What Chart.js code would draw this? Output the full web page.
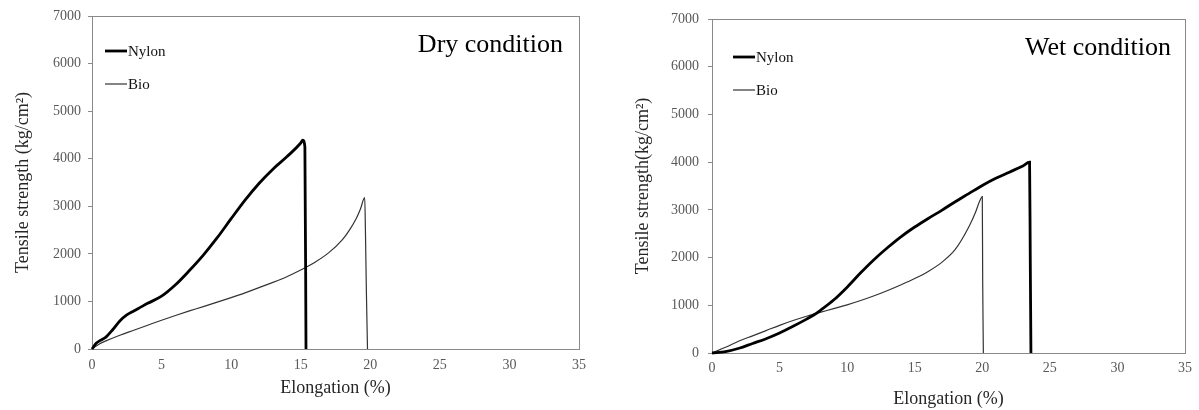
<!DOCTYPE html>
<html>
<head>
<meta charset="utf-8">
<script src="https://cdn.jsdelivr.net/npm/chart.js@4.4.0/dist/chart.umd.min.js"></script>
<style>
  body { margin: 0; background: #fff; }
  #wrap { position: relative; width: 1199px; height: 410px; }
  #dry { position: absolute; left: 0; top: 0; }
  #wet { position: absolute; left: 600px; top: 0; }
</style>
</head>
<body>
<div id="wrap">
  <canvas id="dry" width="600" height="410"></canvas>
  <canvas id="wet" width="599" height="410"></canvas>
</div>
<script>
// values: elongation (%) and tensile strength (kg/cm2)
var dryNylonX = [0, 0.3, 0.6, 1, 1.5, 2, 2.5, 3, 3.5, 4, 5, 6, 7, 8, 9, 10, 11, 12, 13, 14, 15, 15.15, 15.3, 15.38];
var dryNylonY = [0, 120, 180, 250, 410, 590, 715, 800, 880, 960, 1110, 1350, 1650, 1975, 2340, 2740, 3130, 3480, 3780, 4040, 4330, 4390, 4250, 0];
var dryBioX = [0, 0.5, 1, 2, 3, 4, 5, 6, 7, 8, 9, 10, 11, 12, 13, 14, 15, 16, 17, 18, 18.5, 19, 19.3, 19.6, 19.65, 19.72, 19.8];
var dryBioY = [0, 100, 170, 290, 395, 500, 605, 705, 800, 890, 985, 1080, 1180, 1290, 1400, 1520, 1660, 1820, 2020, 2300, 2500, 2750, 2950, 3180, 2500, 1200, 0];

var wetNylonX = [0, 1, 2, 3, 4, 5, 6, 7, 7.5, 8, 9, 10, 11, 12, 13, 14, 15, 16, 17, 18, 19, 20, 21, 22, 23, 23.5, 23.55, 23.6];
var wetNylonY = [0, 30, 100, 200, 300, 420, 560, 710, 790, 890, 1110, 1380, 1680, 1960, 2210, 2440, 2640, 2820, 2990, 3170, 3340, 3510, 3660, 3790, 3920, 4000, 2000, 0];
var wetBioX = [0, 1, 2, 3, 4, 5, 6, 7, 8, 9, 10, 11, 12, 13, 14, 15, 16, 17, 18, 19, 19.5, 19.8, 20, 20.03, 20.08];
var wetBioY = [0, 120, 250, 360, 470, 580, 680, 770, 850, 930, 1010, 1100, 1200, 1310, 1430, 1560, 1710, 1900, 2170, 2640, 2950, 3180, 3280, 1500, 0];

var seriesNames = ['Nylon', 'Bio'];
var xTitle = 'Elongation (%)';

function pts(xs, ys) {
  var out = [];
  for (var i in xs) out.push({x: xs[i], y: ys[i]});
  return out;
}

var serif = "'Liberation Serif', 'Times New Roman', serif";
var axisGray = '#898989';

// frame, condition label and legend drawn inside the plot area
var boxPlugin = {
  id: 'box',
  beforeDatasetsDraw: function(chart) {
    var a = chart.chartArea, ctx = chart.ctx;
    ctx.save();
    ctx.strokeStyle = axisGray;
    ctx.lineWidth = 1;
    ctx.strokeRect(Math.round(a.left) + 0.5, Math.round(a.top) + 0.5,
                   Math.round(a.right - a.left), Math.round(a.bottom - a.top));
    ctx.restore();
  },
  afterDraw: function(chart, args, o) {
    var a = chart.chartArea, ctx = chart.ctx;
    ctx.save();
    ctx.fillStyle = '#000';
    ctx.font = '26px ' + serif;
    ctx.textAlign = 'right';
    ctx.textBaseline = 'middle';
    ctx.fillText(o.label, a.right - o.labelInset, a.top + 29);

    ctx.font = '15px ' + serif;
    ctx.textAlign = 'left';
    var ds = chart.data.datasets;
    for (var i = 0; i < ds.length; i++) {
      var y = a.top + o.legTop + i * 33;
      var x0 = a.left + o.legLeft;
      ctx.strokeStyle = ds[i].borderColor;
      ctx.lineWidth = ds[i].borderWidth;
      ctx.beginPath();
      ctx.moveTo(x0, y);
      ctx.lineTo(x0 + 22, y);
      ctx.stroke();
      ctx.fillStyle = '#111';
      ctx.fillText(ds[i].label, x0 + 23, y + 1);
    }
    ctx.restore();
  }
};

function makeChart(id, nylon, bio, s) {
  var ctx = document.getElementById(id);
  return new Chart(ctx, {
    type: 'line',
    data: {
      datasets: [
        { label: seriesNames[0], data: nylon, borderColor: '#000', borderWidth: 2.8,
          pointRadius: 0, cubicInterpolationMode: 'monotone', clip: false },
        { label: seriesNames[1], data: bio, borderColor: '#333', borderWidth: 1.2,
          pointRadius: 0, cubicInterpolationMode: 'monotone', clip: false }
      ]
    },
    options: {
      responsive: false,
      animation: false,
      events: [],
      layout: { padding: { left: 0, right: s.padRight, top: s.padTop, bottom: 0 } },
      plugins: {
        legend: { display: false },
        tooltip: { enabled: false },
        box: { label: s.label, labelInset: s.labelInset, legLeft: s.legLeft, legTop: s.legTop }
      },
      scales: {
        x: {
          type: 'linear', min: 0, max: 35,
          ticks: { stepSize: 5, padding: s.xTickPad, color: '#595959', font: { family: serif, size: 14 },
                   callback: function(v) { return String(v); } },
          grid: { drawOnChartArea: false, drawTicks: false, color: axisGray },
          border: { display: false },
          title: { display: true, text: xTitle, color: '#262626',
                   font: { family: serif, size: 18 }, padding: { top: 0, bottom: s.xTitlePad } },
          afterFit: function(sc) { sc.height = s.xHeight; }
        },
        y: {
          min: 0, max: 7000,
          ticks: { stepSize: 1000, padding: s.yTickPad, color: '#595959', font: { family: serif, size: 14 },
                   callback: function(v) { return String(v); } },
          grid: { drawOnChartArea: false, drawTicks: true, tickLength: 4, color: axisGray },
          border: { display: false },
          title: { display: true, text: s.yTitle, color: '#262626',
                   font: { family: serif, size: 18 }, padding: { top: s.yTitlePad, bottom: 0 } },
          afterFit: function(sc) { sc.width = s.yWidth; }
        }
      }
    },
    plugins: [boxPlugin]
  });
}

makeChart('dry', pts(dryNylonX, dryNylonY), pts(dryBioX, dryBioY), {
  label: 'Dry condition', labelInset: 16, legLeft: 13, legTop: 35,
  padRight: 21, padTop: 16, xHeight: 61, yWidth: 92,
  xTickPad: 8, yTickPad: 7, xTitlePad: 11, yTitlePad: 12,
  yTitle: 'Tensile strength (kg/cm\u00B2)'
});

makeChart('wet', pts(wetNylonX, wetNylonY), pts(wetBioX, wetBioY), {
  label: 'Wet condition', labelInset: 14, legLeft: 21, legTop: 38,
  padRight: 10, padTop: 19, xHeight: 57, yWidth: 112,
  xTickPad: 7, yTickPad: 9, xTitlePad: 0, yTitlePad: 32,
  yTitle: 'Tensile strength(kg/cm\u00B2)'
});
</script>
</body>
</html>
